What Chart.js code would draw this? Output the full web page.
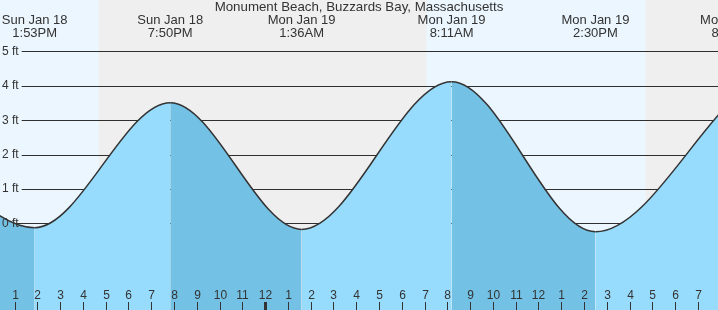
<!DOCTYPE html>
<html>
<head>
<meta charset="utf-8">
<script src="https://cdn.jsdelivr.net/npm/chart.js@4/dist/chart.umd.min.js"></script>
<style>
  html, body { margin: 0; padding: 0; background: #fff; }
</style>
</head>
<body>
<canvas id="tide" width="718" height="310"></canvas>
<script>
// tide extremes, hours counted from Sun Jan 18 00:00
var tideHours = [7.7, 13.883, 19.833, 25.6, 32.183, 38.5, 44.583];
var tideFeet = [3.1, -0.11, 3.52, -0.16, 4.13, -0.23, 3.65];
var tideDays = ['Sun Jan 18', 'Sun Jan 18', 'Sun Jan 18', 'Mon Jan 19', 'Mon Jan 19', 'Mon Jan 19', 'Mon Jan 19'];
var tideClock = ['7:42AM', '1:53PM', '7:50PM', '1:36AM', '8:11AM', '2:30PM', '8:35PM'];

// night (sunset -> sunrise)
var nightStart = [16.7, 40.7];
var nightEnd = [31.08, 55];

var footTicks = [0, 1, 2, 3, 4, 5];
var title = 'Monument Beach, Buzzards Bay, Massachusetts';

var dayColor = '#ebf6fe';
var nightColor = '#efefef';
var riseColor = '#97dcfc';
var fallColor = '#73c1e5';
var ink = '#333';
var family = '"Liberation Sans", Arial, sans-serif';

var points = tideHours.map(function(h, i) {
    return { x: h, y: tideFeet[i] };
});

var bands = {
    id: 'bands',
    beforeDraw: function(chart) {
        var c = chart.ctx, a = chart.chartArea, x = chart.scales.x;
        c.save();
        c.fillStyle = dayColor;
        c.fillRect(a.left, a.top, a.right - a.left, a.bottom - a.top);
        c.fillStyle = nightColor;
        for (var i = 0; i < nightStart.length; i++) {
            var x0 = Math.max(a.left, x.getPixelForValue(nightStart[i]));
            var x1 = Math.min(a.right, x.getPixelForValue(nightEnd[i]));
            if (x1 > x0) c.fillRect(x0, a.top, x1 - x0, a.bottom - a.top);
        }
        c.restore();
    }
};

var labels = {
    id: 'labels',
    afterDraw: function(chart) {
        var c = chart.ctx, a = chart.chartArea, x = chart.scales.x, y = chart.scales.y;
        c.save();
        c.fillStyle = ink;
        c.textAlign = 'center';
        c.textBaseline = 'middle';
        c.font = '13.3px ' + family;
        c.fillText(title, (a.left + a.right) / 2, 7);

        // high / low times at top
        c.font = '13px ' + family;
        for (var i = 0; i < tideHours.length; i++) {
            var px = x.getPixelForValue(tideHours[i]);
            if (px < a.left - 60 || px > a.right + 60) continue;
            c.fillText(tideDays[i], px, 20);
            c.fillText(tideClock[i], px, 33);
        }

        // hour ticks along the bottom
        c.font = '12px ' + family;
        c.strokeStyle = ink;
        for (var h = Math.ceil(x.min); h <= Math.floor(x.max); h++) {
            var tx = Math.round(x.getPixelForValue(h)) + 0.5;
            var hr = h % 12 === 0 ? 12 : h % 12;
            c.fillText(String(hr), tx, a.bottom - 14);
            c.lineWidth = h % 24 === 0 ? 3 : 1;
            c.beginPath();
            c.moveTo(tx, a.bottom - 8);
            c.lineTo(tx, a.bottom);
            c.stroke();
        }

        // foot labels on the left, over a patch of background
        c.textAlign = 'left';
        footTicks.forEach(function(v) {
            var py = Math.round(y.getPixelForValue(v));
            var txt = v + ' ft';
            var w = c.measureText(txt).width;
            if (v !== 0) {
                c.fillStyle = dayColor;
                c.fillRect(a.left, py - 2, w + 5, 4);
            }
            c.fillStyle = ink;
            c.fillText(txt, a.left + 2, py);
        });
        c.restore();
    }
};

function setFootTicks(scale) {
    scale.ticks = footTicks.map(function(v) { return { value: v }; });
}

new Chart(document.getElementById('tide'), {
    type: 'line',
    data: {
        datasets: [{
            data: points,
            borderColor: ink,
            borderWidth: 1.5,
            backgroundColor: riseColor,
            fill: 'start',
            pointRadius: 0,
            cubicInterpolationMode: 'monotone',
            segment: {
                backgroundColor: function(ctx) {
                    return ctx.p1.parsed.y < ctx.p0.parsed.y ? fallColor : riseColor;
                }
            }
        }]
    },
    options: {
        responsive: false,
        animation: false,
        devicePixelRatio: 1,
        layout: { padding: 0 },
        plugins: {
            legend: { display: false },
            tooltip: { enabled: false }
        },
        scales: {
            x: {
                type: 'linear',
                min: 12.36,
                max: 43.88,
                display: false
            },
            y: {
                min: -2.5,
                max: 6.5,
                position: 'left',
                afterBuildTicks: setFootTicks,
                grid: { color: ink, drawTicks: false },
                border: { display: false },
                ticks: { display: false }
            },
            y2: {
                min: -2.5,
                max: 6.5,
                position: 'left',
                z: 1,
                afterBuildTicks: setFootTicks,
                grid: { color: 'rgba(0,0,0,0.08)', drawTicks: false },
                border: { display: false },
                ticks: { display: false }
            }
        }
    },
    plugins: [bands, labels]
});
</script>
</body>
</html>
